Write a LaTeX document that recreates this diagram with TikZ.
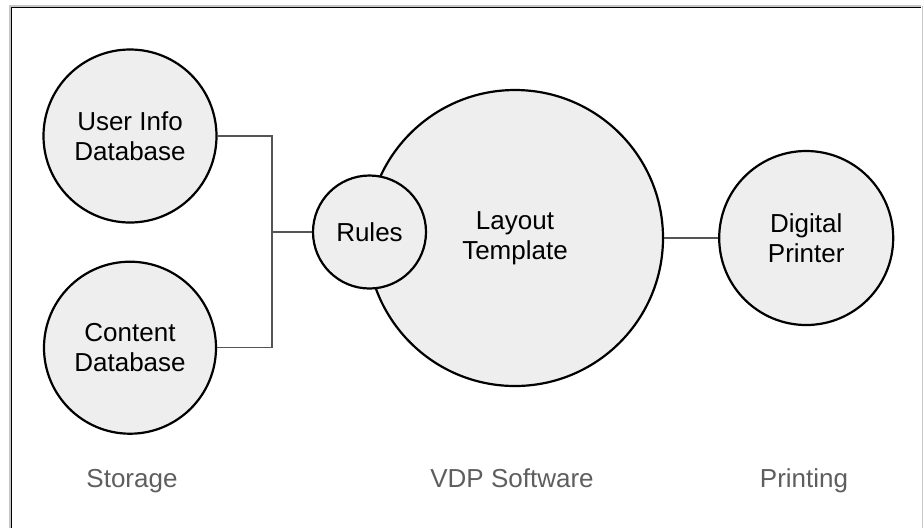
\documentclass[tikz,border=0pt]{standalone}
\usepackage{fontspec}
\setmainfont{Liberation Sans}
\usetikzlibrary{positioning}
\definecolor{circfill}{HTML}{EEEEEE}
\definecolor{linkgray}{HTML}{555555}
\definecolor{stagegray}{HTML}{5E5E5E}
\tikzset{
    unit/.style={
        draw, circle, line width=1.1pt, fill=circfill, inner sep=0pt, align=center, text=black, font=\fontsize{13}{15}\selectfont
    },
    link/.style={
        line width=0.6pt, draw=linkgray
    },
    stage/.style={
        anchor=base, text=stagegray, font=\fontsize{13}{15}\selectfont
    }
}

\begin{document}
\begin{tikzpicture}[x=0.5pt, y=-0.5pt]  % one unit = one pixel of the page

    \clip (0,0) rectangle (924,527);

    % frame
    \draw [gray!45, line width=0.8pt] (10,540) |- (921,6);
    \draw [gray!45, line width=0.8pt] (922.3,6) -- (922.3,540);
    \draw [black, line width=0.5pt] (11.5,540) |- (921,7.5);

    % nodes
    \node (userinfo) [unit, minimum size=86.5pt] at (130,136) {User Info\\Database};
    \node (content) [unit, minimum size=86pt, below=18.5pt of userinfo] {Content\\Database};
    \node (layout) [unit, minimum size=148pt] at (515,238) {Layout\\Template};
    \node (rules) [unit, minimum size=56.5pt] at (369.5,232) {Rules};
    \node (printer) [unit, minimum size=87pt, right=27pt of layout] {Digital\\Printer};
    \coordinate [left=20pt of rules] (join);

    \node (storage) [stage] at (132,487) {Storage};
    \node (vdp) [stage] at (512,487) {VDP Software};
    \node (printing) [stage] at (804,487) {Printing};

    % lines
    \draw [link] (userinfo.east) -| (join);
    \draw [link] (content.east) -| (join);
    \draw [link] (join) -- (rules);
    \draw [link] (layout) -- (printer);

\end{tikzpicture}
\end{document}
